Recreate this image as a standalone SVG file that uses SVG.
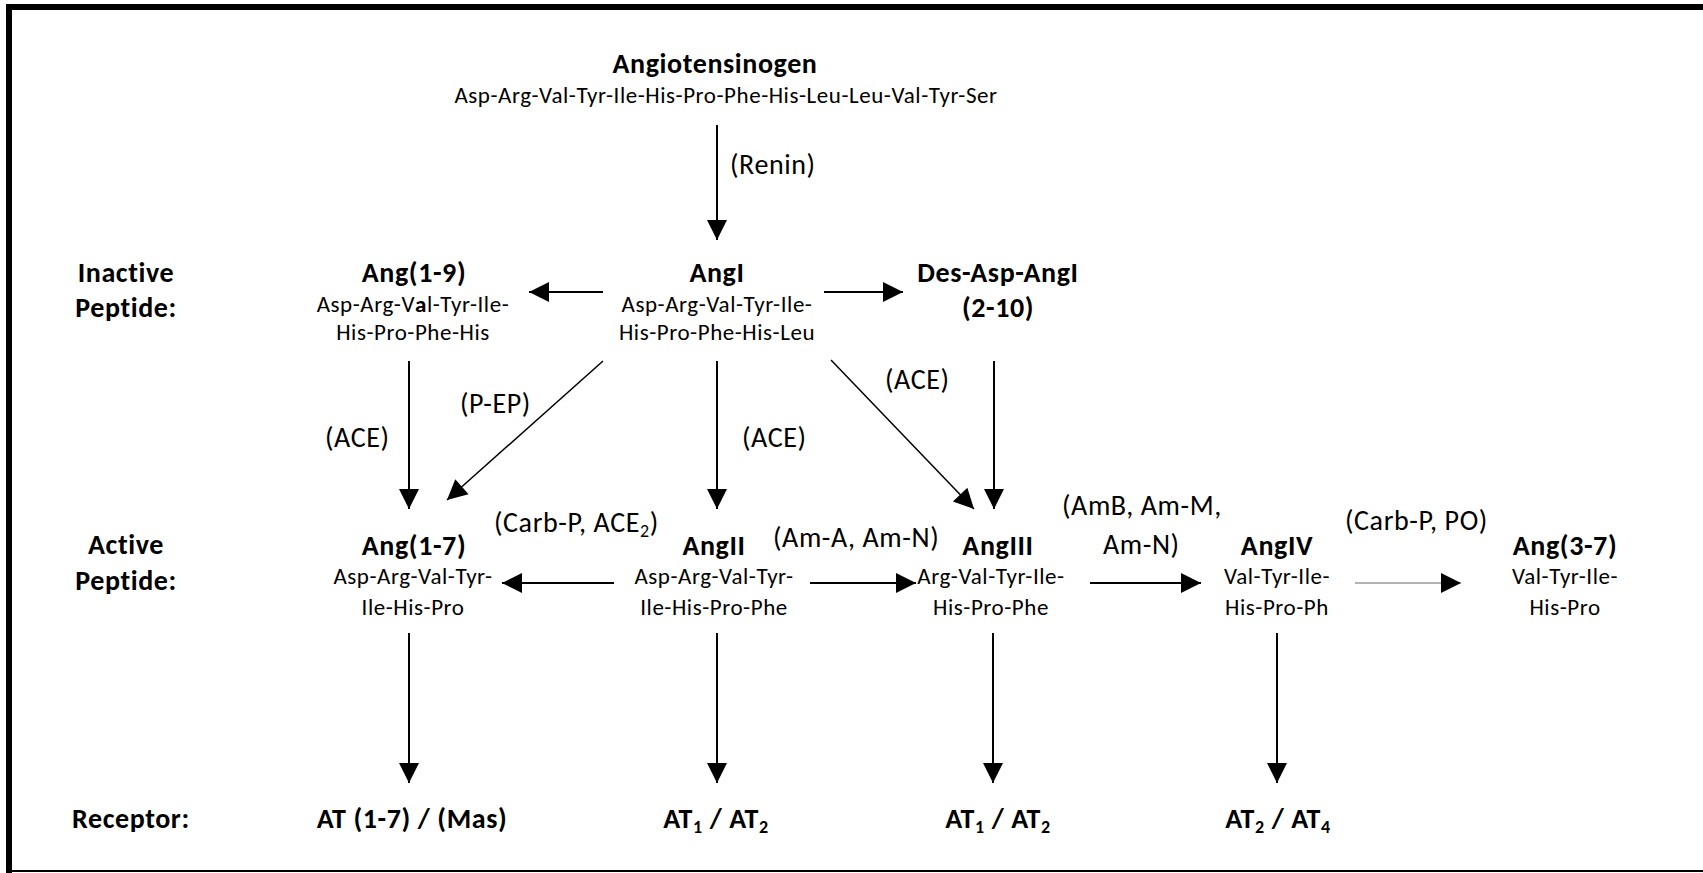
<svg xmlns="http://www.w3.org/2000/svg" width="1703" height="873" viewBox="0 0 1703 873">
<style>
text{font-family:Carlito,Lato,"Open Sans",sans-serif;fill:#000;font-variant-ligatures:none;font-feature-settings:"liga" 0,"clig" 0}
.t{font-weight:bold;font-size:28px;letter-spacing:0.6px;text-anchor:middle}
.s{font-size:23px;letter-spacing:0.55px;text-anchor:middle}
.l{font-size:28px;letter-spacing:0.6px}
.h{font-weight:bold;font-size:28px;letter-spacing:0.6px;text-anchor:middle}
.c{stroke:#000;stroke-width:2;fill:none;marker-end:url(#ah)}
.sub{font-size:18px}
</style>
<defs>
<marker id="ah" markerUnits="userSpaceOnUse" markerWidth="22" markerHeight="22" viewBox="0 0 22 22" refX="21" refY="11" orient="auto">
<path d="M1,1 L21,11 L1,21 z" fill="#000"/>
</marker>
</defs>
<rect x="0" y="0" width="1703" height="873" fill="#fff"/>
<g id="frame">
<rect x="6" y="4" width="1697" height="6" fill="#000"/>
<rect x="6" y="4" width="6" height="869" fill="#000"/>
<rect x="6" y="870" width="1697" height="2" fill="#000"/>
</g>
<g id="row-labels">
<text class="h" x="126" y="282">Inactive</text>
<text class="h" x="126" y="317">Peptide:</text>
<text class="h" x="126" y="554">Active</text>
<text class="h" x="126" y="590">Peptide:</text>
<text class="h" x="72" y="828" style="text-anchor:start">Receptor:</text>
</g>
<g id="connectors">
<line class="c" x1="717" y1="125" x2="717" y2="240"/>
<line class="c" x1="603" y1="292" x2="529" y2="292"/>
<line class="c" x1="824" y1="292" x2="903" y2="292"/>
<line class="c" x1="409" y1="361" x2="409" y2="509"/>
<line class="c" x1="603" y1="361" x2="447" y2="500" style="stroke-width:1.5"/>
<line class="c" x1="717" y1="361" x2="717" y2="509"/>
<line class="c" x1="831" y1="360" x2="974" y2="509" style="stroke-width:1.5"/>
<line class="c" x1="994" y1="361" x2="994" y2="509"/>
<line class="c" x1="614" y1="583" x2="502" y2="583"/>
<line class="c" x1="810" y1="583" x2="916" y2="583"/>
<line class="c" x1="1090" y1="583" x2="1201" y2="583"/>
<line class="c" x1="1355" y1="583" x2="1461" y2="583" style="stroke:#999;stroke-width:1.5"/>
<line class="c" x1="409" y1="633" x2="409" y2="783"/>
<line class="c" x1="717" y1="633" x2="717" y2="783"/>
<line class="c" x1="993" y1="633" x2="993" y2="783"/>
<line class="c" x1="1277" y1="633" x2="1277" y2="783"/>
</g>
<g id="enzyme-labels">
<text class="l" x="730" y="174">(Renin)</text>
<text class="l" x="325" y="447">(ACE)</text>
<text class="l" x="460" y="413">(P-EP)</text>
<text class="l" x="742" y="447">(ACE)</text>
<text class="l" x="885" y="389">(ACE)</text>
<text class="l" x="494" y="532">(Carb-P, ACE<tspan class="sub" dy="5">2</tspan><tspan dy="-5">)</tspan></text>
<text class="l" x="773" y="547">(Am-A, Am-N)</text>
<text class="l" x="1062" y="515">(AmB, Am-M,</text>
<text class="l" x="1103" y="554">Am-N)</text>
<text class="l" x="1345" y="530">(Carb-P, PO)</text>
</g>
<g id="angiotensinogen">
<text class="t" x="715" y="73">Angiotensinogen</text>
<text class="s" x="726" y="103">Asp-Arg-Val-Tyr-Ile-His-Pro-Phe-His-Leu-Leu-Val-Tyr-Ser</text>
</g>
<g id="ang1-9">
<text class="t" x="414" y="282">Ang(1-9)</text>
<text class="s" x="413" y="312">Asp-Arg-V<tspan font-weight="bold">a</tspan>l-Tyr-Ile-</text>
<text class="s" x="413" y="340">His-Pro-Phe-His</text>
</g>
<g id="angI">
<text class="t" x="717" y="282">AngI</text>
<text class="s" x="717" y="312">Asp-Arg-Val-Tyr-Ile-</text>
<text class="s" x="717" y="340">His-Pro-Phe-His-Leu</text>
</g>
<g id="des-asp-angI">
<text class="t" x="998" y="282">Des-Asp-AngI</text>
<text class="t" x="998" y="317">(2-10)</text>
</g>
<g id="ang1-7">
<text class="t" x="414" y="555">Ang(1-7)</text>
<text class="s" x="413" y="584">Asp-Arg-Val-Tyr-</text>
<text class="s" x="413" y="615">Ile-His-Pro</text>
</g>
<g id="angII">
<text class="t" x="714" y="555">AngII</text>
<text class="s" x="714" y="584">Asp-Arg-Val-Tyr-</text>
<text class="s" x="714" y="615">Ile-His-Pro-Phe</text>
</g>
<g id="angIII">
<text class="t" x="998" y="555">AngIII</text>
<text class="s" x="991" y="584">Arg-Val-Tyr-Ile-</text>
<text class="s" x="991" y="615">His-Pro-Phe</text>
</g>
<g id="angIV">
<text class="t" x="1277" y="555">AngIV</text>
<text class="s" x="1277" y="584">Val-Tyr-Ile-</text>
<text class="s" x="1277" y="615">His-Pro-Ph</text>
</g>
<g id="ang3-7">
<text class="t" x="1565" y="555">Ang(3-7)</text>
<text class="s" x="1565" y="584">Val-Tyr-Ile-</text>
<text class="s" x="1565" y="615">His-Pro</text>
</g>
<g id="receptors">
<text class="t" x="412" y="828">AT (1-7) / (Mas)</text>
<text class="t" x="716" y="828">AT<tspan class="sub" dy="5">1</tspan><tspan dy="-5"> / AT</tspan><tspan class="sub" dy="5">2</tspan></text>
<text class="t" x="998" y="828">AT<tspan class="sub" dy="5">1</tspan><tspan dy="-5"> / AT</tspan><tspan class="sub" dy="5">2</tspan></text>
<text class="t" x="1278" y="828">AT<tspan class="sub" dy="5">2</tspan><tspan dy="-5"> / AT</tspan><tspan class="sub" dy="5">4</tspan></text>
</g>
</svg>
